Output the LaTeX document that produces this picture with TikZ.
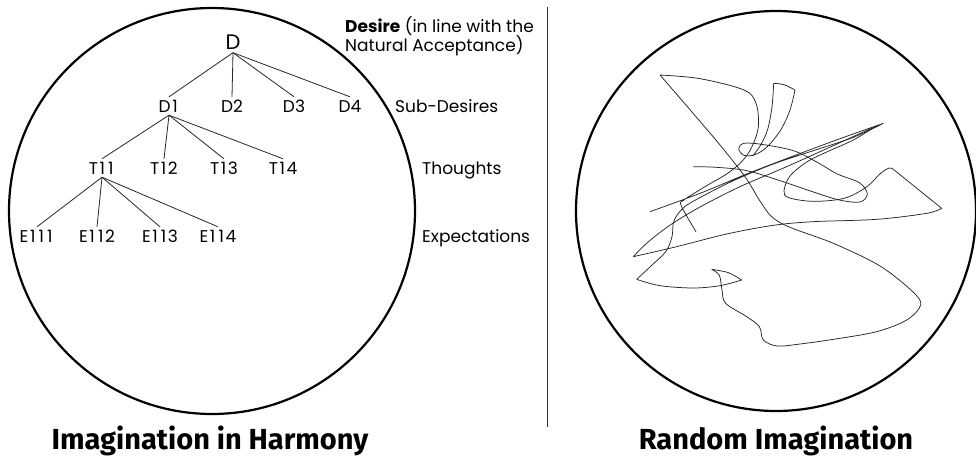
\documentclass[tikz,border=0pt]{standalone}
\usepackage{fontspec}
\setmainfont{Poppins}
\newfontfamily\titlefont{Fira Sans}
\newcommand\onedig{\makebox[8.6pt][c]{1}}
\begin{document}
\begin{tikzpicture}[x=1pt,y=-1pt,
  lbl/.style={font=\fontsize{17}{19.5}\selectfont, text=black, inner sep=0pt, text height=12pt, text depth=0pt},
  tnode/.style={lbl, inner sep=3pt},
  bigtnode/.style={tnode, font=\fontsize{21}{23}\selectfont, text height=15pt},
  edge/.style={line width=0.8pt, black!85},
  bigcirc/.style={circle, draw, line width=2.2pt, inner sep=0pt, minimum size=#1},
  scrib/.style={line width=0.75pt, black!85, line join=round},
  ttl/.style={font=\titlefont\bfseries\fontsize{29}{31}\selectfont, inner sep=0pt},
  divider/.style={line width=0.8pt, black!80}
]
\useasboundingbox (0,0) rectangle (976,463);

% circles
\node[bigcirc=406pt] (lc) at (212,211) {};
\node[bigcirc=400pt] (rc) at (776,211) {};

% divider
\coordinate (dvt) at (547,7);
\coordinate (dvb) at (547,427);
\draw[divider] (dvt) -- (dvb);

% tree
\node[bigtnode] (D) at (233,42) {D};
\node[tnode] (D1) at (169,106) {D\onedig};
\node[tnode] (D2) at (232,106) {D2};
\node[tnode] (D3) at (294,106) {D3};
\node[tnode] (D4) at (350,106) {D4};
\node[tnode] (T11) at (102,168) {T\onedig\onedig};
\node[tnode] (T12) at (164,168) {T\onedig2};
\node[tnode] (T13) at (224,168) {T\onedig3};
\node[tnode] (T14) at (283,168) {T\onedig4};
\node[tnode] (E111) at (37,236) {E\onedig\onedig\onedig};
\node[tnode] (E112) at (97,236) {E\onedig\onedig2};
\node[tnode] (E113) at (160,236) {E\onedig\onedig3};
\node[tnode] (E114) at (218,236) {E\onedig\onedig4};

\foreach \c in {D1,D2,D3,D4} \draw[edge] (D.south) -- (\c.north);
\foreach \c in {T11,T12,T13,T14} \draw[edge] (D1.south) -- (\c.north);
\foreach \c in {E111,E112,E113,E114} \draw[edge] (T11.south) -- (\c.north);

% level labels
\node[lbl, anchor=west, text height=, align=left] (desire) at (345,34)
  {\textbf{Desire} (in line with the\\Natural Acceptance)};
\node[lbl, anchor=west] (sub) at (395,106) {Sub-Desires};
\node[lbl, anchor=west] (thou) at (422,168) {Thoughts};
\node[lbl, anchor=west] (expe) at (422,236) {Expectations};

% titles
\node[ttl] (t1) at (210,441) {Imagination in Harmony};
\node[ttl] (t2) at (776,441) {Random Imagination};

% scribble
\begin{scope}[shift={(560,30)}, scale=0.33333]
\draw[scrib]
  plot[smooth, tension=0.55] coordinates {(270,545) (420,490) (560,432) (700,378) (840,326) (970,280)}
  plot[smooth, tension=0.55] coordinates {(970,280) (880,322) (760,362) (640,402) (520,452) (425,500) (372,532) (342,572) (336,620) (318,664) (275,706) (230,748)}
  plot[smooth, tension=0.55] coordinates {(230,748) (300,767) (400,774) (480,767) (545,750)}
  plot[smooth, tension=0.55] coordinates {(545,750) (505,728) (455,718)}
  plot[smooth, tension=0.55] coordinates {(455,718) (478,736) (486,780) (497,820) (560,860) (598,890) (610,930) (652,948) (720,942) (820,928) (950,905) (1040,870) (1082,825) (1058,785) (960,708) (820,640) (690,592) (635,560) (598,510) (555,440) (480,345) (395,245) (300,135)}
  plot[smooth, tension=0.55] coordinates {(300,135) (420,146) (552,180) (588,220) (595,290) (575,352) (545,395) (500,432) (440,467) (372,510) (364,528) (408,605)};
\draw[scrib]
  plot[smooth, tension=0.55] coordinates {(578,378) (602,345) (623,298) (636,230) (641,160)}
  plot[smooth, tension=0.55] coordinates {(641,160) (672,164) (705,180)}
  plot[smooth, tension=0.55] coordinates {(705,180) (690,240) (662,300) (622,350) (585,374) (552,376) (536,356) (552,340) (605,343) (700,362) (770,396) (832,432) (898,458) (922,492) (900,516) (838,510) (760,486) (660,452) (560,422) (470,412) (400,410)};
\draw[scrib]
  plot[smooth, tension=0.55] coordinates {(945,290) (880,330) (800,366) (740,396) (690,438) (672,482) (686,503) (760,514) (852,505) (918,472) (962,430) (988,414) (1000,418)}
  -- (1145,535)
  plot[smooth, tension=0.55] coordinates {(1145,535) (1100,550) (950,568) (760,575) (640,586) (500,612) (350,650) (220,680)}
  plot[smooth, tension=0.55] coordinates {(220,680) (262,638) (332,584) (422,530) (540,470) (680,410) (822,346) (945,290)};
\end{scope}
\end{tikzpicture}
\end{document}
